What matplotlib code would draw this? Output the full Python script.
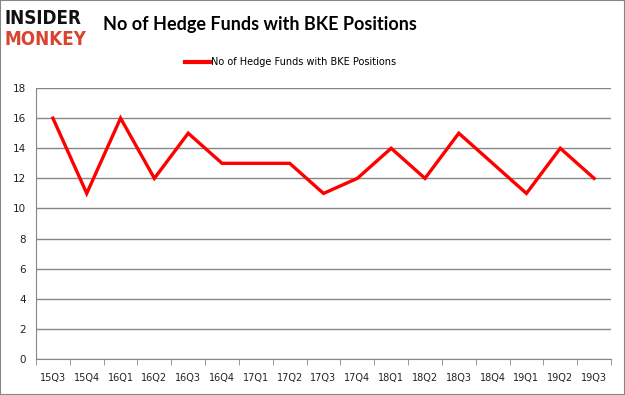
import matplotlib.pyplot as plt
from matplotlib.lines import Line2D

quarters = ['15Q3', '15Q4', '16Q1', '16Q2', '16Q3', '16Q4', '17Q1', '17Q2', '17Q3',
            '17Q4', '18Q1', '18Q2', '18Q3', '18Q4', '19Q1', '19Q2', '19Q3']
funds = [16, 11, 16, 12, 15, 13, 13, 13, 11, 12, 14, 12, 15, 13, 11, 14, 12]
series_name = 'No of Hedge Funds with BKE Positions'

fig = plt.figure(figsize=(6.25, 3.95), dpi=100)
ax = fig.add_axes([0.0576, 0.0911, 0.92, 0.686])

x = range(len(quarters))
ax.plot(x, funds, color='#ff0000', lw=2.4, solid_joinstyle='miter')

ax.set_xlim(-0.5, len(quarters) - 0.5)
ax.set_ylim(0, 18)
ax.set_yticks(range(0, 19, 2))
ax.set_xticks(list(x))
ax.set_xticklabels(quarters)
ax.set_xticks([i - 0.5 for i in range(len(quarters) + 1)], minor=True)
ax.tick_params(axis='x', which='major', length=0, pad=10, labelsize=7, labelcolor='#222222')
ax.tick_params(axis='x', which='minor', length=4, color='#868686', direction='out')
ax.tick_params(axis='y', length=0, labelsize=7.5, labelcolor='#222222', pad=7)
ax.grid(axis='y', color='#868686', lw=1)
ax.set_axisbelow(True)
for s in ['top', 'right']:
    ax.spines[s].set_visible(False)
ax.spines['left'].set_color('#868686')
ax.spines['bottom'].set_color('#868686')

fig.text(0.416, 0.937, 'No of Hedge Funds with BKE Positions', ha='center', va='center',
         fontsize=13, fontweight='bold', family='Lato')
handle = Line2D([], [], color='#ff0000', lw=3)
fig.legend([handle], [series_name], loc='center', bbox_to_anchor=(0.465, 0.843),
           frameon=False, fontsize=7, handlelength=2.6, handletextpad=0.1)

fig.text(0.008, 0.953, 'INSIDER', ha='left', va='center', fontsize=13.5,
         fontweight='heavy', family='DejaVu Sans', fontstretch='condensed', color='#111111')
fig.text(0.008, 0.900, 'MONKEY', ha='left', va='center', fontsize=13.5,
         fontweight='heavy', family='DejaVu Sans', fontstretch='condensed', color='#d9432f')

fig.patches.append(plt.Rectangle((0, 0), 1, 1, transform=fig.transFigure, fill=False,
                                 edgecolor='#868686', lw=1.5))
fig.savefig('out.png', dpi=100)
